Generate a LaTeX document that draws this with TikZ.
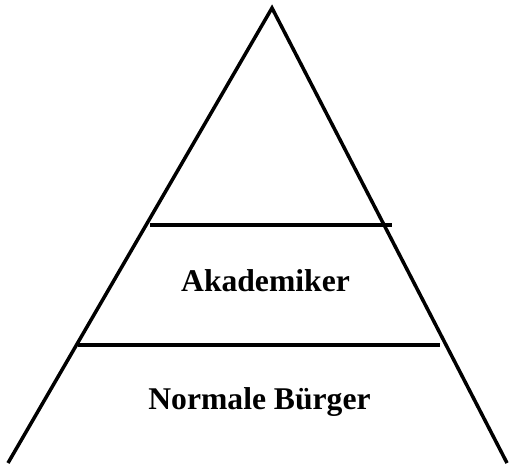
\documentclass[tikz,border=0pt]{standalone}
\usepackage{fontspec}
\setmainfont{Liberation Serif}
\usepackage{tikz}

\tikzset{
    layer/.style = {line width=2pt},
    label/.style = {anchor=base, font=\bfseries\fontsize{18}{20}\selectfont}
}

\begin{document}
\begin{tikzpicture}[x=0.02cm, y=-0.02cm]
    \useasboundingbox (0,0) rectangle (509,463);

    % Corners of the pyramid
    \coordinate (top) at (272,8);
    \coordinate (left) at (8,463);
    \coordinate (right) at (507,463);
    \draw[layer] (left) -- (top) -- (right);

    % Dividing lines
    \coordinate (upperL) at (150,225);
    \coordinate (upperR) at (392,225);
    \coordinate (lowerL) at (78,345);
    \coordinate (lowerR) at (440,345);
    \draw[layer] (upperL) -- (upperR);
    \draw[layer] (lowerL) -- (lowerR);

    % Layer labels
    \node[label] (akad) at (265.5,291) {Akademiker};
    \node[label] (buerger) at (259.5,409) {Normale Bürger};
\end{tikzpicture}
\end{document}
